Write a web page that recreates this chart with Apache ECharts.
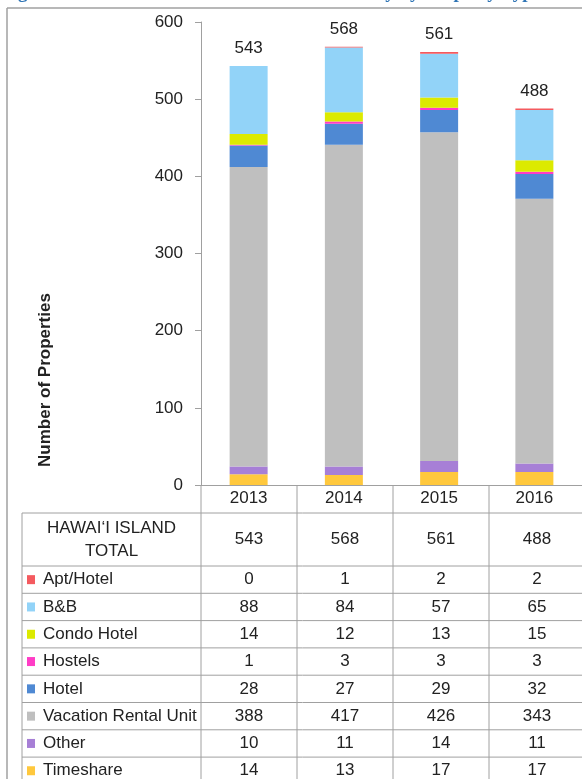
<!DOCTYPE html>
<html>
<head>
    <meta charset="utf-8">
    <title>Hawai'i Island Properties by Type</title>
    <script src="https://cdn.jsdelivr.net/npm/echarts@6/dist/echarts.min.js"></script>
    <style>
        html, body { margin: 0; padding: 0; background: #fff; }
        #chart { width: 582px; height: 779px; }
    </style>
</head>
<body>
    <div id="chart"></div>

    <script>
    // data
    const years = ['2013', '2014', '2015', '2016'];
    const totals = [543, 568, 561, 488];
    // stack order, bottom to top
    const types = ['Timeshare', 'Other', 'Vacation Rental Unit', 'Hotel', 'Hostels', 'Condo Hotel', 'B&B', 'Apt/Hotel'];
    const timeshare = [14, 13, 17, 17];
    const other = [10, 11, 14, 11];
    const vacationRental = [388, 417, 426, 343];
    const hotel = [28, 27, 29, 32];
    const hostels = [1, 3, 3, 3];
    const condoHotel = [14, 12, 13, 15];
    const bnb = [88, 84, 57, 65];
    const aptHotel = [0, 1, 2, 2];
    const yTicks = [0, 100, 200, 300, 400, 500, 600];

    const seriesValues = [timeshare, other, vacationRental, hotel, hostels, condoHotel, bnb, aptHotel];
    const colors = ['#ffc83d', '#a77fd6', '#bfbfbf', '#4f89d3', '#ff3dc6', '#dcea00', '#92d3f8', '#f45a5f'];
    // table rows, top to bottom
    const tableOrder = [7, 6, 5, 4, 3, 2, 1, 0];

    // layout
    const gridLeft = 201, gridTop = 22, gridW = 384, gridH = 463;
    const colW = gridW / years.length;
    const tableLeft = 22, headTop = 513, headBottom = 566, rowH = 27.3;
    const lineColor = '#a0a0a0';
    const font = 'Liberation Sans, Arial, sans-serif';
    const fs = 17;

    const chart = echarts.init(document.getElementById('chart'));

    const series = types.map(function (name, i) {
        const s = {
            name: name,
            type: 'bar',
            stack: 'total',
            barWidth: 38,
            data: seriesValues[i],
            itemStyle: { color: colors[i] }
        };
        if (i === types.length - 1) {
            s.label = {
                show: true,
                position: 'top',
                distance: 9,
                fontSize: fs,
                fontFamily: font,
                color: '#222',
                formatter: function (p) { return totals[p.dataIndex]; }
            };
        }
        return s;
    });

    // table graphics
    const g = [];
    const tableBottom = headBottom + rowH * tableOrder.length;
    // outer frame
    g.push({ type: 'line', shape: { x1: 7, y1: 8, x2: 582, y2: 8 }, style: { stroke: '#a0a0a0', lineWidth: 1.5 } });
    g.push({ type: 'line', shape: { x1: 7, y1: 8, x2: 7, y2: 779 }, style: { stroke: '#a0a0a0', lineWidth: 1.5 } });
    // cut-off caption
    g.push({
        type: 'text', left: 1, top: -16,
        style: { text: 'Figure 20: Hawai\u2018i Island Visitor Unit Inventory by Property Type', font: 'bold 19px "Liberation Serif", serif', fill: '#2e74b5' }
    });
    // y axis title
    g.push({
        type: 'text', x: 45, y: 380, rotation: Math.PI / 2,
        style: { text: 'Number of Properties', font: 'bold ' + fs + 'px ' + font, fill: '#222', align: 'center', verticalAlign: 'middle' }
    });
    // column lines
    for (let c = 0; c <= years.length; c++) {
        const x = gridLeft + c * colW;
        g.push({ type: 'line', shape: { x1: x, y1: gridTop + gridH, x2: x, y2: tableBottom }, style: { stroke: lineColor, lineWidth: 1 } });
    }
    g.push({ type: 'line', shape: { x1: tableLeft, y1: headTop, x2: tableLeft, y2: tableBottom }, style: { stroke: lineColor, lineWidth: 1 } });
    // row lines
    const rowLines = [headTop, headBottom];
    for (let r = 1; r <= tableOrder.length; r++) rowLines.push(headBottom + r * rowH);
    rowLines.forEach(function (y) {
        g.push({ type: 'line', shape: { x1: tableLeft, y1: y, x2: 585, y2: y }, style: { stroke: lineColor, lineWidth: 1 } });
    });
    // header row
    g.push({
        type: 'text', x: (tableLeft + gridLeft) / 2, y: (headTop + headBottom) / 2,
        style: { text: 'HAWAI\u2018I ISLAND\nTOTAL', font: fs + 'px ' + font, fill: '#222', align: 'center', verticalAlign: 'middle', lineHeight: 23 }
    });
    totals.forEach(function (v, c) {
        g.push({
            type: 'text', x: gridLeft + (c + 0.5) * colW, y: (headTop + headBottom) / 2,
            style: { text: String(v), font: fs + 'px ' + font, fill: '#222', align: 'center', verticalAlign: 'middle' }
        });
    });
    // body rows
    tableOrder.forEach(function (si, r) {
        const yc = headBottom + (r + 0.5) * rowH;
        g.push({ type: 'rect', shape: { x: 27, y: yc - 4.5, width: 8, height: 9 }, style: { fill: colors[si] } });
        g.push({
            type: 'text', x: 43, y: yc,
            style: { text: types[si], font: fs + 'px ' + font, fill: '#222', align: 'left', verticalAlign: 'middle' }
        });
        seriesValues[si].forEach(function (v, c) {
            g.push({
                type: 'text', x: gridLeft + (c + 0.5) * colW, y: yc,
                style: { text: String(v), font: fs + 'px ' + font, fill: '#222', align: 'center', verticalAlign: 'middle' }
            });
        });
    });

    const option = {
        animation: false,
        grid: { left: gridLeft, top: gridTop, width: gridW, height: gridH },
        xAxis: {
            type: 'category',
            data: years,
            axisLine: { lineStyle: { color: lineColor } },
            axisTick: { show: false },
            axisLabel: { fontSize: fs, fontFamily: font, color: '#222', margin: 5 }
        },
        yAxis: {
            type: 'value',
            min: yTicks[0],
            max: yTicks[yTicks.length - 1],
            interval: 100,
            axisLine: { show: true, lineStyle: { color: lineColor } },
            axisTick: { show: true, length: 6, lineStyle: { color: lineColor } },
            axisLabel: { fontSize: fs, fontFamily: font, color: '#222', margin: 18 },
            splitLine: { show: false }
        },
        series: series,
        graphic: g
    };

    chart.setOption(option);
    </script>
</body>
</html>
